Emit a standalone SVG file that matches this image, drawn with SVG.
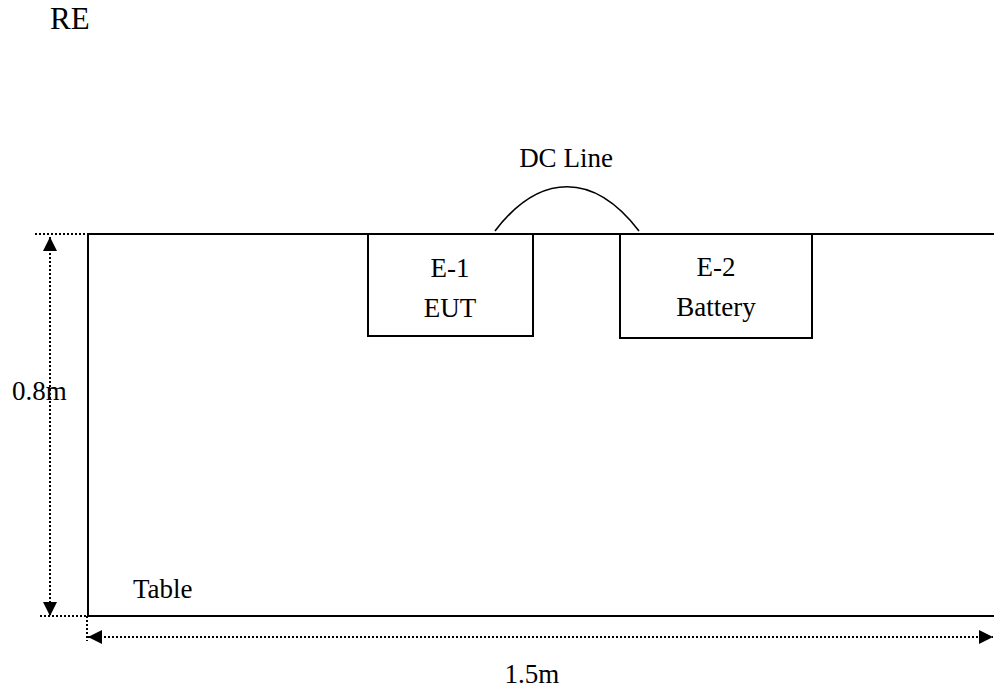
<svg xmlns="http://www.w3.org/2000/svg" width="994" height="691" viewBox="0 0 994 691">
<style>
text{font-family:'Liberation Serif','Times New Roman',Tinos,serif;font-size:27px;fill:#000}
.solid{fill:none;stroke:#000;stroke-width:2}
.thin{fill:none;stroke:#000;stroke-width:1.6}
.dot{fill:none;stroke:#000;stroke-width:2;stroke-dasharray:2,2}
.mid{text-anchor:middle}
</style>
<defs>
<marker id="ah" viewBox="0 0 10 10" refX="10" refY="5" markerWidth="15" markerHeight="14" markerUnits="userSpaceOnUse" orient="auto-start-reverse">
<path d="M0,0 L10,5 L0,10 Z" fill="#000"/>
</marker>
</defs>
<rect width="994" height="691" fill="#fff"/>
<text x="50" y="29" style="font-size:31px">RE</text>
<g id="table">
<path class="solid" d="M994,234 H88 V616 H994"/>
<text x="133" y="598">Table</text>
</g>
<g id="e1">
<rect class="solid" x="368" y="234" width="165" height="102"/>
<text class="mid" x="450" y="277">E-1</text>
<text class="mid" x="450" y="317">EUT</text>
</g>
<g id="e2">
<rect class="solid" x="620" y="234" width="192" height="104"/>
<text class="mid" x="716" y="276">E-2</text>
<text class="mid" x="716" y="316">Battery</text>
</g>
<g id="connectors">
<path class="thin" d="M495,231 C540,172 594,172 639,231"/>
<text class="mid" x="566" y="167">DC Line</text>
</g>
<g id="dimensions">
<path class="dot" d="M35,234 H88"/>
<path class="dot" d="M40,616 H110"/>
<path class="dot" d="M50,237 V616" marker-start="url(#ah)" marker-end="url(#ah)"/>
<text x="12" y="400">0.8m</text>
<path class="dot" d="M87,616 V641"/>
<path class="dot" d="M88,637 H993" marker-start="url(#ah)" marker-end="url(#ah)"/>
<text class="mid" x="532" y="683">1.5m</text>
</g>
</svg>
